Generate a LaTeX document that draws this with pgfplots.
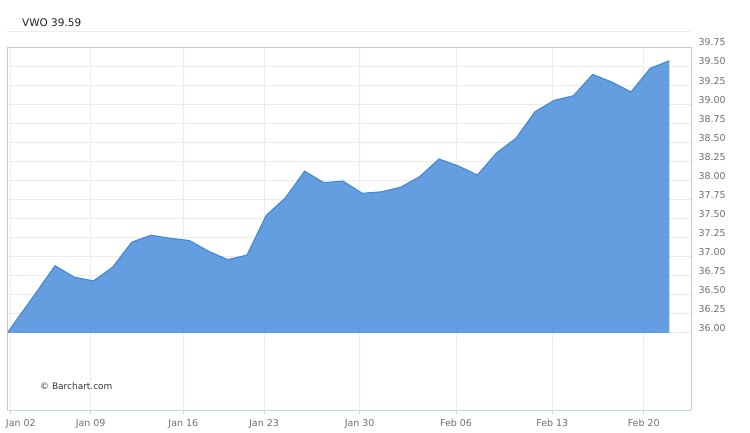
\documentclass[border=0pt]{standalone}
\usepackage{pgfplots}
\pgfplotsset{compat=1.18}
\usepackage{fontspec}
\setmainfont{DejaVu Sans}
\definecolor{areafill}{RGB}{78,145,220}
\definecolor{arealine}{RGB}{70,135,212}
\definecolor{gridh}{RGB}{236,236,236}
\definecolor{gridv}{RGB}{232,238,245}
\definecolor{framegray}{RGB}{200,200,200}
\definecolor{frameblue}{RGB}{197,214,232}
\definecolor{ticktext}{RGB}{110,110,110}
\pgfplotstableread{
x y
-2.6 35.81
16.6 36.17
35.8 36.52
55.0 36.88
74.2 36.73
93.4 36.68
112.6 36.86
131.8 37.19
151.0 37.28
170.2 37.24
189.4 37.21
208.6 37.07
227.8 36.96
247.0 37.02
266.2 37.54
285.4 37.77
304.6 38.12
323.8 37.97
343.0 37.99
362.2 37.83
381.4 37.85
400.6 37.91
419.8 38.05
439.0 38.28
458.2 38.19
477.4 38.07
496.6 38.36
515.8 38.55
535.0 38.90
554.2 39.05
573.4 39.11
592.6 39.39
611.8 39.29
631.0 39.16
650.2 39.47
669.4 39.57
}\vwo
\begin{document}
\begin{tikzpicture}
\path (0bp,0bp) rectangle (750bp,433bp);
\draw[gridh, line width=0.8bp] (7bp,402bp) -- (691bp,402bp);
\node[anchor=base west, inner sep=0pt, text=black!87, font=\fontsize{10.5}{12}\selectfont] at (22bp,406bp) {VWO 39.59};
\begin{axis}[
  at={(7bp,23bp)}, anchor=south west,
  scale only axis, width=684bp, height=363bp,
  xmin=7, xmax=691, ymin=34.987, ymax=39.75,
  axis line style={draw=none},
  xtick={10,90.7,183.3,264,359.7,456,552.3,643.7},
  xticklabels={\makebox[0pt][l]{\hspace*{-4bp}Jan 02},Jan 09,Jan 16,Jan 23,Jan 30,Feb 06,Feb 13,Feb 20},
  ytick={36,36.25,36.5,36.75,37,37.25,37.5,37.75,38,38.25,38.5,38.75,39,39.25,39.5,39.75},
  yticklabel pos=right,
  xtick pos=lower,
  /pgf/number format/fixed,
  /pgf/number format/fixed zerofill,
  /pgf/number format/precision=2,
  /pgf/number format/assume math mode=true,
  xticklabel style={font=\fontsize{9.5}{11}\selectfont, text=ticktext, yshift=-1.5bp},
  yticklabel style={font=\fontsize{9.5}{11}\selectfont, text=ticktext, anchor=west, yshift=4.5bp, xshift=0bp},
  xmajorgrids, ymajorgrids,
  major x grid style={gridv, line width=0.8bp},
  major y grid style={gridh, line width=0.8bp},
  tick align=outside,
  xtick style={draw=frameblue, line width=0.8bp},
  ytick style={draw=none},
  major tick length=4bp,
]
\addplot[draw=none, fill=areafill, fill opacity=0.88] table[x=x,y=y] {\vwo} -- (axis cs:669.4,36) -- (axis cs:-2.6,36) -- cycle;
\addplot[arealine, line width=1.1bp, mark=none] table[x=x,y=y] {\vwo};
\end{axis}
\draw[framegray, line width=0.8bp] (7bp,23bp) -- (7bp,386bp) -- (691bp,386bp) -- (691bp,23bp);
\draw[frameblue, line width=0.9bp] (7bp,23bp) -- (691bp,23bp);
\node[anchor=base west, inner sep=0pt, text=black!80, font=\fontsize{9}{11}\selectfont] at (40bp,43bp) {© Barchart.com};
\end{tikzpicture}
\end{document}
